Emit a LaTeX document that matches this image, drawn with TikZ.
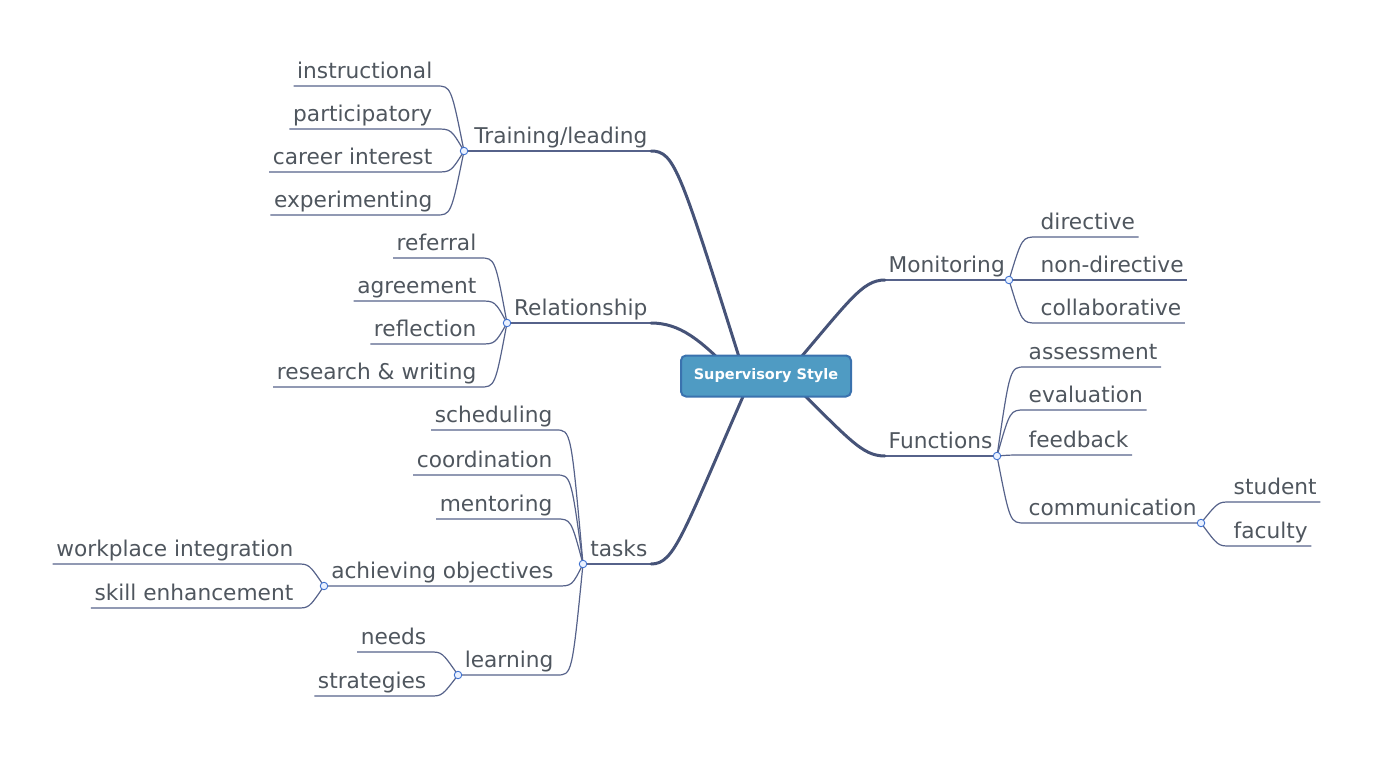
\documentclass[tikz,border=0pt]{standalone}
\usepackage{fontspec}
\setmainfont{DejaVu Sans}
\definecolor{txt}{HTML}{4F565E}
\definecolor{ln}{HTML}{56628A}
\definecolor{mainln}{HTML}{465378}
\definecolor{jb}{HTML}{3F72D0}
\definecolor{jf}{HTML}{EAF1FF}
\definecolor{cfill}{HTML}{4F9BC3}
\definecolor{cdraw}{HTML}{3A72AE}
\begin{document}
\begin{tikzpicture}[x=1pt,y=-1pt,
  lbl/.style={font=\fontsize{21.7}{24}\selectfont, text=txt, inner ysep=0pt, inner xsep=3.5pt, text height=16pt, text depth=7pt},
  lleaf/.style={lbl, anchor=south east},
  rleaf/.style={lbl, anchor=south west},
  jn/.style={circle, draw=jb, fill=jf, line width=0.9pt, inner sep=0pt, minimum size=7.5pt},
  thin/.style={draw=ln, line width=1.2pt},
  thick/.style={draw=mainln, line width=3pt, line cap=round},
  center/.style={rounded corners=5pt, fill=cfill, draw=cdraw, line width=2pt, minimum width=170pt, minimum height=41pt, text=white, font=\bfseries\fontsize{14.5}{16}\selectfont}
]
\useasboundingbox (0,0) rectangle (1378,757);

% junctions (coordinates)
\coordinate (jTL) at (464,151);
\coordinate (jRE) at (507,323);
\coordinate (jTA) at (583,564);
\coordinate (jAO) at (324,586);
\coordinate (jLE) at (458,675);
\coordinate (jMO) at (1009,280);
\coordinate (jFU) at (997,456);
\coordinate (jCO) at (1201,523);
\coordinate (cTL) at (745,376);
\coordinate (cRE) at (730,370);
\coordinate (cTA) at (752,376);
\coordinate (cMO) at (785,376);
\coordinate (cFU) at (785,376);

% main labels
\node[lleaf] (tl) at (651,151) {Training/leading};
\node[lleaf] (re) at (651,323) {Relationship};
\node[lleaf] (ta) at (651,564) {tasks};
\node[rleaf] (mo) at (885,280) {Monitoring};
\node[rleaf] (fu) at (885,456) {Functions};

% main branches
\draw[thin] (jTL) -- (tl.south east);
\draw[thick] (tl.south east) .. controls (675,151) and (680,170) .. (cTL);
\draw[thin] (jRE) -- (re.south east);
\draw[thick] (re.south east) .. controls (680,323) and (700,340) .. (cRE);
\draw[thin] (jTA) -- (ta.south east);
\draw[thick] (ta.south east) .. controls (675,564) and (682,535) .. (cTA);
\draw[thin] (mo.south west) -- (jMO);
\draw[thick] (mo.south west) .. controls (862,280) and (850,300) .. (cMO);
\draw[thin] (fu.south west) -- (jFU);
\draw[thick] (fu.south west) .. controls (862,456) and (850,440) .. (cFU);

% Training/leading leaves
\node[lleaf] (l1) at (436,86) {instructional};
\node[lleaf] (l2) at (436,129) {participatory};
\node[lleaf] (l3) at (436,172) {career interest};
\node[lleaf] (l4) at (436,215) {experimenting};
\foreach \n in {l1,l2,l3,l4}
  \draw[thin] (\n.south west) -- (\n.south east) .. controls ([xshift=15pt]\n.south east) .. (jTL);

% Relationship leaves
\node[lleaf] (r1) at (480,258) {referral};
\node[lleaf] (r2) at (480,301) {agreement};
\node[lleaf] (r3) at (480,344) {reflection};
\node[lleaf] (r4) at (480,387) {research \& writing};
\foreach \n in {r1,r2,r3,r4}
  \draw[thin] (\n.south west) -- (\n.south east) .. controls ([xshift=15pt]\n.south east) .. (jRE);

% tasks leaves
\node[lleaf] (t1) at (556,430) {scheduling};
\node[lleaf] (t2) at (556,475) {coordination};
\node[lleaf] (t3) at (556,519) {mentoring};
\node[lleaf] (ao) at (557,586) {achieving objectives};
\node[lleaf] (le) at (557,675) {learning};
\foreach \n in {t1,t2,t3}
  \draw[thin] (\n.south west) -- (\n.south east) .. controls ([xshift=15pt]\n.south east) .. (jTA);
\draw[thin] (jAO) -- (ao.south east) .. controls ([xshift=15pt]ao.south east) .. (jTA);
\draw[thin] (jLE) -- (le.south east) .. controls ([xshift=15pt]le.south east) .. (jTA);

% achieving objectives leaves
\node[lleaf] (a1) at (297,564) {workplace integration};
\node[lleaf] (a2) at (297,608) {skill enhancement};
\foreach \n in {a1,a2}
  \draw[thin] (\n.south west) -- (\n.south east) .. controls ([xshift=12pt]\n.south east) .. (jAO);

% learning leaves
\node[lleaf] (n1) at (430,652) {needs};
\node[lleaf] (n2) at (430,696) {strategies};
\foreach \n in {n1,n2}
  \draw[thin] (\n.south west) -- (\n.south east) .. controls ([xshift=12pt]\n.south east) .. (jLE);

% Monitoring leaves
\node[rleaf] (m1) at (1037,237) {directive};
\node[rleaf] (m2) at (1037,280) {non-directive};
\node[rleaf] (m3) at (1037,323) {collaborative};
\foreach \n in {m1,m3}
  \draw[thin] (jMO) .. controls ([xshift=-15pt]\n.south west) .. (\n.south west) -- (\n.south east);
\draw[thin] (jMO) -- (m2.south east);

% Functions leaves
\node[rleaf] (f1) at (1025,367) {assessment};
\node[rleaf] (f2) at (1025,410) {evaluation};
\node[rleaf] (f3) at (1025,455) {feedback};
\node[rleaf] (co) at (1025,523) {communication};
\foreach \n in {f1,f2,f3}
  \draw[thin] (jFU) .. controls ([xshift=-15pt]\n.south west) .. (\n.south west) -- (\n.south east);
\draw[thin] (jFU) .. controls ([xshift=-15pt]co.south west) .. (co.south west) -- (jCO);

% communication leaves
\node[rleaf] (s1) at (1230,502) {student};
\node[rleaf] (s2) at (1230,546) {faculty};
\foreach \n in {s1,s2}
  \draw[thin] (jCO) .. controls ([xshift=-12pt]\n.south west) .. (\n.south west) -- (\n.south east);

% junction circles
\foreach \j in {jTL,jRE,jTA,jAO,jLE,jMO,jFU,jCO}
  \node[jn] at (\j) {};

% center
\node[center] (c) at (766,376) {Supervisory Style};
\end{tikzpicture}
\end{document}
